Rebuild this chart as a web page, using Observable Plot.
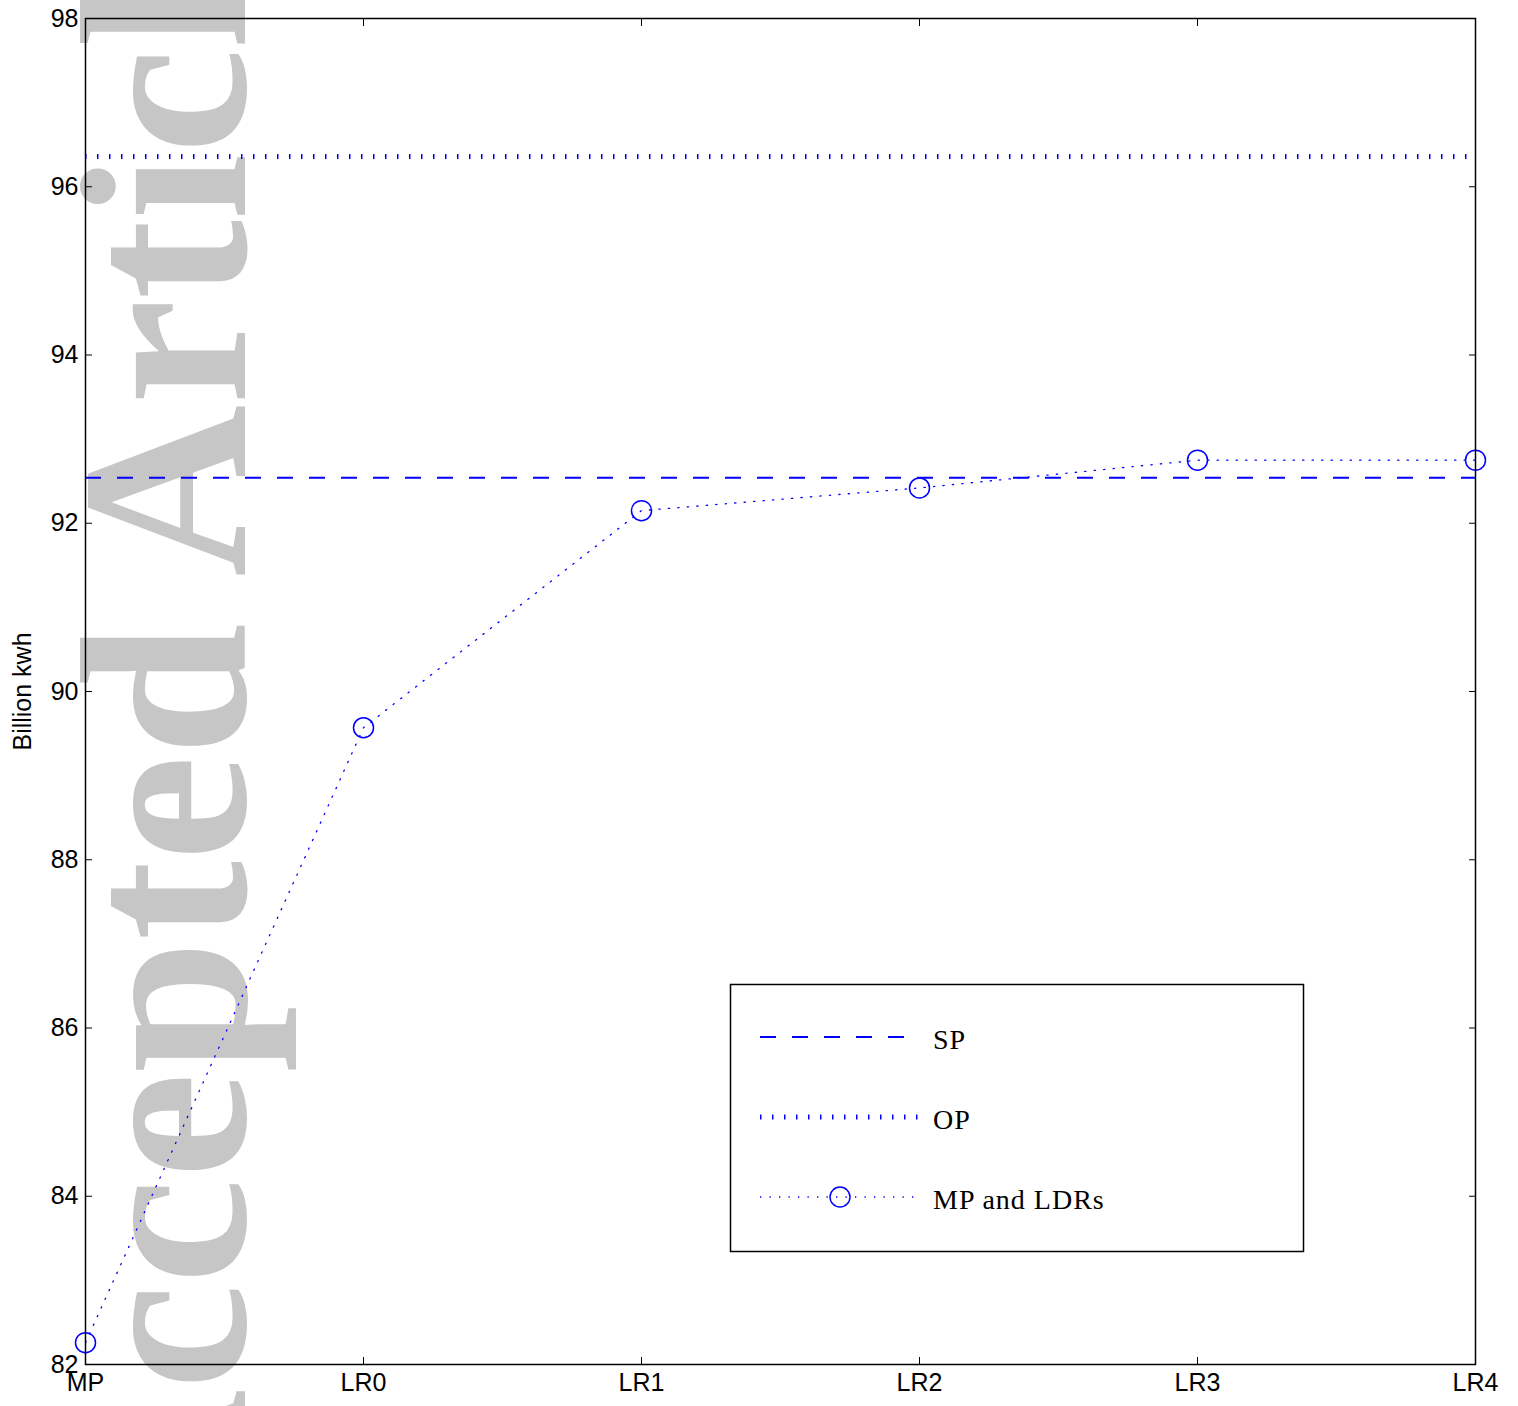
<!DOCTYPE html>
<html>
<head>
<meta charset="utf-8">
<script src="https://cdn.jsdelivr.net/npm/d3@7"></script>
<script src="https://cdn.jsdelivr.net/npm/@observablehq/plot@0.6"></script>
<style>
  html, body { margin: 0; padding: 0; background: #fff; }
  #wrap { position: relative; width: 1518px; height: 1406px; overflow: hidden; }
  #wrap > svg { position: absolute; left: 0; top: 0; }
</style>
</head>
<body>
<div id="wrap"></div>
<script>
// ---- data ----
const categories = ["MP", "LR0", "LR1", "LR2", "LR3", "LR4"];
const mpValues = [82.26, 89.57, 92.15, 92.42, 92.75, 92.75];
const spValue = 92.54;
const opValue = 96.36;
const yTicks = [82, 84, 86, 88, 90, 92, 94, 96, 98];
const seriesNames = ["SP", "OP", "MP and LDRs"];
const yLabel = "Billion kwh";
const watermark = "Accepted Article";

// ---- chart ----
const blue = "#0000ff";
const rows = categories.map((c, i) => ({cat: c, v: mpValues[i]}));
const W = 1518, H = 1406;
const mL = 85, mR = 43, mT = 18, mB = 42;

const chart = Plot.plot({
  width: W, height: H,
  marginLeft: mL, marginRight: mR, marginTop: mT, marginBottom: mB,
  style: {fontFamily: "'Liberation Sans', Arial, Helvetica, sans-serif", fontSize: "25px", color: "#000", background: "#fff"},
  x: {type: "point", domain: categories, padding: 0, label: null},
  y: {domain: [82, 98], label: null},
  marks: [
    Plot.text([watermark], {
      frameAnchor: "bottom-left", text: d => d, rotate: -90,
      textAnchor: "start", lineAnchor: "bottom",
      fontSize: 238, fontWeight: 700, fontFamily: "Liberation Serif",
      fill: "#c6c6c6", dx: 159, dy: 197
    }),
    Plot.ruleY([spValue], {stroke: blue, strokeWidth: 2, strokeDasharray: "16,16"}),
    Plot.ruleY([opValue], {stroke: blue, strokeWidth: 5, strokeDasharray: "1.5,10.5"}),
    Plot.line(rows, {x: "cat", y: "v", stroke: blue, strokeWidth: 1.3, strokeDasharray: "1.3,8.2"}),
    Plot.dot(rows, {x: "cat", y: "v", r: 10, stroke: blue, strokeWidth: 1.5, fill: "none"}),
    Plot.frame({stroke: "#000", strokeWidth: 1.5}),
    Plot.axisY({anchor: "left", ticks: yTicks, tickSize: 0, tickPadding: 7, fontSize: 25, label: null}),
    Plot.axisY({anchor: "left", ticks: yTicks, tickSize: -7, tickFormat: () => "", label: null}),
    Plot.axisY({anchor: "right", ticks: yTicks, tickSize: -7, tickFormat: () => "", label: null}),
    Plot.axisX({anchor: "bottom", tickSize: 0, tickPadding: 9, fontSize: 25, label: null}),
    Plot.axisX({anchor: "bottom", tickSize: -7, tickFormat: () => "", label: null}),
    Plot.axisX({anchor: "top", tickSize: -7, tickFormat: () => "", label: null}),
    Plot.text([yLabel], {frameAnchor: "left", text: d => d, rotate: -90, dx: -63, fontSize: 25, textAnchor: "middle", lineAnchor: "middle"})
  ]
});
document.getElementById("wrap").appendChild(chart);

// ---- legend (overlay) ----
const lg = d3.select("#wrap").append("svg")
  .attr("width", W).attr("height", H)
  .style("pointer-events", "none");
const box = {x: 730.5, y: 984.5, w: 573, h: 267};
lg.append("rect").attr("x", box.x).attr("y", box.y).attr("width", box.w).attr("height", box.h)
  .attr("fill", "#fff").attr("stroke", "#000").attr("stroke-width", 1.5);
const entries = [
  {name: seriesNames[0], dy: 52.5, x2: 905, width: 2, dash: "16,16", marker: false},
  {name: seriesNames[1], dy: 132.5, x2: 919, width: 5, dash: "1.5,10.5", marker: false},
  {name: seriesNames[2], dy: 212.5, x2: 919, width: 1.3, dash: "1.3,8.2", marker: true}
];
entries.forEach(e => {
  const y = box.y + e.dy;
  lg.append("line").attr("x1", 760).attr("x2", e.x2).attr("y1", y).attr("y2", y)
    .attr("stroke", blue).attr("stroke-width", e.width).attr("stroke-dasharray", e.dash);
  if (e.marker) {
    lg.append("circle").attr("cx", 840).attr("cy", y).attr("r", 10)
      .attr("fill", "none").attr("stroke", blue).attr("stroke-width", 1.5);
  }
  lg.append("text").attr("x", 933).attr("y", y + 12)
    .attr("font-family", "'Liberation Serif', 'Times New Roman', serif")
    .attr("font-size", 28).attr("letter-spacing", "1px").attr("fill", "#000")
    .text(e.name);
});
</script>
</body>
</html>
